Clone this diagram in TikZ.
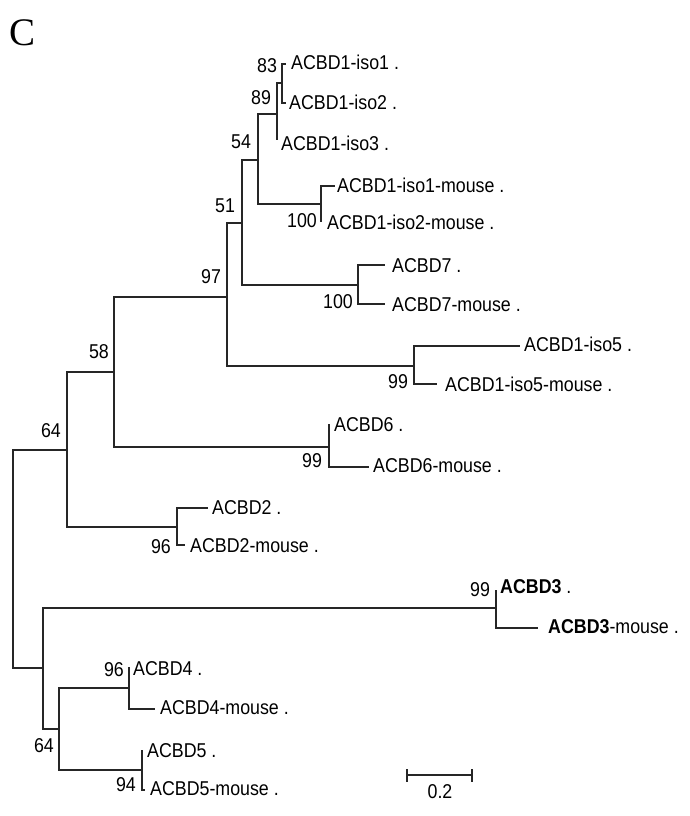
\documentclass[tikz,border=0pt]{standalone}
\usepackage{fontspec}
\setmainfont{Liberation Sans}[FakeStretch=0.89]
\newfontfamily\serifC{Liberation Serif}
\begin{document}
\begin{tikzpicture}[x=1pt,y=-1pt,
  br/.style={line width=1.1pt,black!85},
  leaf/.style={anchor=base west,inner sep=0pt,font=\fontsize{20}{23}\selectfont},
  boot/.style={anchor=base,inner sep=0pt,font=\fontsize{20}{23}\selectfont}]
\useasboundingbox (0,0) rectangle (690,816);
\node[anchor=base west,inner sep=0pt,font=\serifC\fontsize{39}{42}\selectfont] (lab) at (9,46) {C};
% internal nodes
\coordinate (root) at (13,559);
\coordinate (nA) at (67,450);
\coordinate (nB) at (43,668);
\coordinate (n58) at (114,372);
\coordinate (n2) at (177,527);
\coordinate (n97) at (227,297);
\coordinate (n6) at (329,447);
\coordinate (n51) at (242,223);
\coordinate (n5) at (414,366);
\coordinate (n54) at (258,160);
\coordinate (n7) at (358,285);
\coordinate (n89) at (277,114);
\coordinate (nm) at (321,204);
\coordinate (n83) at (282,83);
\coordinate (n3) at (496,608);
\coordinate (n64b) at (59,729);
\coordinate (n4) at (129,688);
\coordinate (n94) at (142,770);
% branch ends
\coordinate (e1) at (286,64);
\coordinate (e2) at (286,103);
\coordinate (e3) at (277,140);
\coordinate (e1m) at (335,186);
\coordinate (e2m) at (321,222);
\coordinate (e7) at (385,265);
\coordinate (e7m) at (385,304);
\coordinate (e5) at (520,346);
\coordinate (e5m) at (437,384);
\coordinate (e6) at (329,424);
\coordinate (e6m) at (369,467);
\coordinate (eA2) at (208,508);
\coordinate (eA2m) at (185,545);
\coordinate (e3a) at (496,590);
\coordinate (e3am) at (538,628);
\coordinate (e4) at (129,667);
\coordinate (e4m) at (155,709);
\coordinate (e5a) at (142,750);
\coordinate (e5am) at (145,790);
% branches
\draw[br] (root) |- (nA);  \draw[br] (root) |- (nB);
\draw[br] (nA) |- (n58);   \draw[br] (nA) |- (n2);
\draw[br] (n58) |- (n97);  \draw[br] (n58) |- (n6);
\draw[br] (n97) |- (n51);  \draw[br] (n97) |- (n5);
\draw[br] (n51) |- (n54);  \draw[br] (n51) |- (n7);
\draw[br] (n54) |- (n89);  \draw[br] (n54) |- (nm);
\draw[br] (n89) |- (n83);  \draw[br] (n89) |- (e3);
\draw[br] (n83) |- (e1);   \draw[br] (n83) |- (e2);
\draw[br] (nm) |- (e1m);   \draw[br] (nm) |- (e2m);
\draw[br] (n7) |- (e7);    \draw[br] (n7) |- (e7m);
\draw[br] (n5) |- (e5);    \draw[br] (n5) |- (e5m);
\draw[br] (n6) |- (e6);    \draw[br] (n6) |- (e6m);
\draw[br] (n2) |- (eA2);   \draw[br] (n2) |- (eA2m);
\draw[br] (nB) |- (n3);    \draw[br] (nB) |- (n64b);
\draw[br] (n3) |- (e3a);   \draw[br] (n3) |- (e3am);
\draw[br] (n64b) |- (n4);  \draw[br] (n64b) |- (n94);
\draw[br] (n4) |- (e4);    \draw[br] (n4) |- (e4m);
\draw[br] (n94) |- (e5a);  \draw[br] (n94) |- (e5am);
% leaf labels
\node[leaf] (t1) at (291,70) {ACBD1-iso1 .};
\node[leaf] (t2) at (289,109) {ACBD1-iso2 .};
\node[leaf] (t3) at (281,150) {ACBD1-iso3 .};
\node[leaf] (t1m) at (337,192) {ACBD1-iso1-mouse .};
\node[leaf] (t2m) at (327,229) {ACBD1-iso2-mouse .};
\node[leaf] (t7) at (392,272) {ACBD7 .};
\node[leaf] (t7m) at (392,311) {ACBD7-mouse .};
\node[leaf] (t5) at (524,351) {ACBD1-iso5 .};
\node[leaf] (t5m) at (445,391) {ACBD1-iso5-mouse .};
\node[leaf] (t6) at (334,431) {ACBD6 .};
\node[leaf] (t6m) at (373,472) {ACBD6-mouse .};
\node[leaf] (tA2) at (212,514) {ACBD2 .};
\node[leaf] (tA2m) at (190,552) {ACBD2-mouse .};
\node[leaf] (t3a) at (500,593) {\textbf{ACBD3} .};
\node[leaf] (t3am) at (548,633) {\textbf{ACBD3}-mouse .};
\node[leaf] (t4) at (133,675) {ACBD4 .};
\node[leaf] (t4m) at (160,714) {ACBD4-mouse .};
\node[leaf] (t5a) at (147,757) {ACBD5 .};
\node[leaf] (t5am) at (150,795) {ACBD5-mouse .};
% bootstrap values
\node[boot] (b83) at (267,72) {83};
\node[boot] (b89) at (261,104) {89};
\node[boot] (b54) at (241,148) {54};
\node[boot] (b51) at (225,212) {51};
\node[boot] (b100a) at (302,227) {100};
\node[boot] (b97) at (211,283) {97};
\node[boot] (b100b) at (338,308) {100};
\node[boot] (b99a) at (398,388) {99};
\node[boot] (b58) at (99,358) {58};
\node[boot] (b64a) at (51,437) {64};
\node[boot] (b99b) at (312,467) {99};
\node[boot] (b96a) at (161,553) {96};
\node[boot] (b99c) at (480,596) {99};
\node[boot] (b96b) at (114,676) {96};
\node[boot] (b64b) at (44,752) {64};
\node[boot] (b94) at (126,791) {94};
% scale bar
\coordinate (s1) at (407,775);
\coordinate (s2) at (472,775);
\draw[br] (s1) -- (s2);
\draw[br] ([yshift=6pt]s1) -- ([yshift=-7pt]s1);
\draw[br] ([yshift=6pt]s2) -- ([yshift=-7pt]s2);
\node[boot] (sb) at (440,798) {0.2};
\end{tikzpicture}
\end{document}
